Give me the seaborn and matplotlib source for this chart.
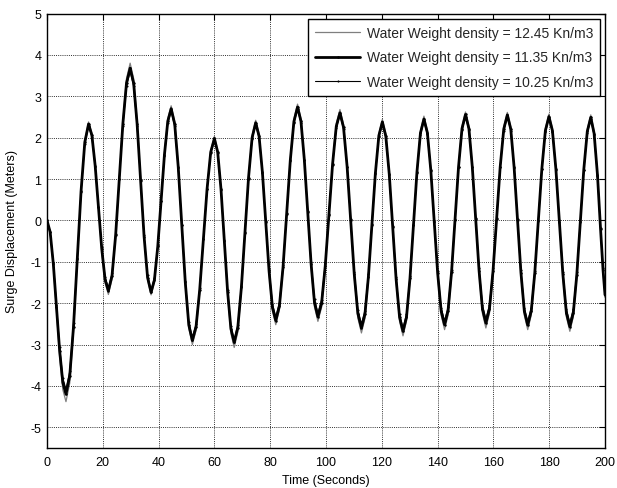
import numpy as np
import pandas as pd
import matplotlib
matplotlib.use('Agg')
import matplotlib.pyplot as plt
import seaborn as sns

# ---------------- data ----------------
time_s = [0, 1.13, 2.27, 3.4, 4.53, 5.67,
          6.8, 8.15, 9.5, 10.85, 12.2, 13.55,
          14.9, 16.08, 17.27, 18.45, 19.63, 20.82,
          22.0, 23.3, 24.6, 25.9, 27.2, 28.5,
          29.8, 31.05, 32.3, 33.55, 34.8, 36.05,
          37.3, 38.5, 39.7, 40.9, 42.1, 43.3,
          44.5, 45.77, 47.03, 48.3, 49.57, 50.83,
          52.1, 53.42, 54.73, 56.05, 57.37, 58.68,
          60.0, 61.18, 62.37, 63.55, 64.73, 65.92,
          67.1, 68.38, 69.67, 70.95, 72.23, 73.52,
          74.8, 76.0, 77.2, 78.4, 79.6, 80.8,
          82.0, 83.3, 84.6, 85.9, 87.2, 88.5,
          89.8, 91.02, 92.23, 93.45, 94.67, 95.88,
          97.1, 98.42, 99.73, 101.05, 102.37, 103.68,
          105.0, 106.28, 107.57, 108.85, 110.13, 111.42,
          112.7, 113.95, 115.2, 116.45, 117.7, 118.95,
          120.2, 121.43, 122.67, 123.9, 125.13, 126.37,
          127.6, 128.85, 130.1, 131.35, 132.6, 133.85,
          135.1, 136.33, 137.57, 138.8, 140.03, 141.27,
          142.5, 143.75, 145.0, 146.25, 147.5, 148.75,
          150.0, 151.22, 152.43, 153.65, 154.87, 156.08,
          157.3, 158.58, 159.87, 161.15, 162.43, 163.72,
          165.0, 166.22, 167.43, 168.65, 169.87, 171.08,
          172.3, 173.57, 174.83, 176.1, 177.37, 178.63,
          179.9, 181.15, 182.4, 183.65, 184.9, 186.15,
          187.4, 188.65, 189.9, 191.15, 192.4, 193.65,
          194.9, 196.1, 197.3, 198.4, 199.3, 200.0]

disp_1245 = [0, -0.29, -1.10, -2.19, -3.29, -4.09,
             -4.38, -3.93, -2.69, -1.00, 0.69, 1.93,
             2.38, 2.10, 1.34, 0.30, -0.75, -1.51,
             -1.79, -1.42, -0.39, 1.01, 2.40, 3.43,
             3.80, 3.43, 2.40, 1.00, -0.40, -1.43,
             -1.80, -1.49, -0.66, 0.49, 1.63, 2.46,
             2.77, 2.38, 1.33, -0.12, -1.56, -2.61,
             -3.00, -2.66, -1.74, -0.49, 0.77, 1.69,
             2.03, 1.69, 0.76, -0.52, -1.80, -2.73,
             -3.07, -2.70, -1.70, -0.33, 1.05, 2.05,
             2.42, 2.09, 1.19, -0.05, -1.29, -2.19,
             -2.52, -2.16, -1.19, 0.15, 1.48, 2.45,
             2.81, 2.46, 1.50, 0.19, -1.13, -2.09,
             -2.44, -2.10, -1.16, 0.12, 1.40, 2.34,
             2.68, 2.32, 1.33, -0.02, -1.37, -2.36,
             -2.72, -2.37, -1.43, -0.14, 1.15, 2.09,
             2.44, 2.09, 1.13, -0.18, -1.48, -2.44,
             -2.79, -2.43, -1.46, -0.14, 1.19, 2.16,
             2.52, 2.17, 1.23, -0.06, -1.35, -2.29,
             -2.64, -2.29, -1.33, -0.01, 1.31, 2.27,
             2.62, 2.27, 1.32, 0.01, -1.30, -2.25,
             -2.60, -2.25, -1.30, 0.01, 1.31, 2.26,
             2.61, 2.26, 1.30, -0.02, -1.33, -2.29,
             -2.64, -2.29, -1.34, -0.04, 1.27, 2.22,
             2.57, 2.22, 1.26, -0.06, -1.37, -2.33,
             -2.68, -2.33, -1.37, -0.07, 1.24, 2.20,
             2.55, 2.15, 1.12, -0.22, -1.25, -1.86]

disp_1135 = [0, -0.28, -1.05, -2.10, -3.15, -3.92,
             -4.20, -3.76, -2.57, -0.94, 0.70, 1.89,
             2.33, 2.06, 1.32, 0.32, -0.69, -1.43,
             -1.70, -1.34, -0.36, 0.99, 2.34, 3.32,
             3.68, 3.32, 2.33, 0.97, -0.39, -1.38,
             -1.74, -1.44, -0.63, 0.48, 1.59, 2.40,
             2.70, 2.33, 1.30, -0.10, -1.50, -2.53,
             -2.90, -2.57, -1.68, -0.46, 0.76, 1.65,
             1.98, 1.65, 0.75, -0.49, -1.72, -2.62,
             -2.95, -2.59, -1.62, -0.30, 1.03, 2.00,
             2.36, 2.04, 1.17, -0.03, -1.23, -2.10,
             -2.42, -2.07, -1.13, 0.16, 1.45, 2.39,
             2.74, 2.40, 1.47, 0.21, -1.06, -1.99,
             -2.33, -2.00, -1.10, 0.14, 1.37, 2.27,
             2.60, 2.25, 1.30, 0.00, -1.30, -2.25,
             -2.60, -2.27, -1.36, -0.11, 1.14, 2.05,
             2.38, 2.04, 1.12, -0.15, -1.42, -2.34,
             -2.68, -2.34, -1.40, -0.12, 1.17, 2.11,
             2.45, 2.12, 1.21, -0.04, -1.28, -2.19,
             -2.52, -2.18, -1.25, 0.02, 1.29, 2.22,
             2.56, 2.22, 1.30, 0.04, -1.22, -2.14,
             -2.48, -2.14, -1.22, 0.04, 1.29, 2.21,
             2.55, 2.21, 1.28, 0.01, -1.26, -2.19,
             -2.53, -2.19, -1.27, -0.01, 1.25, 2.17,
             2.51, 2.17, 1.24, -0.03, -1.30, -2.23,
             -2.57, -2.23, -1.31, -0.04, 1.23, 2.15,
             2.49, 2.10, 1.10, -0.20, -1.20, -1.80]

disp_1025 = [0, -0.27, -1.02, -2.04, -3.06, -3.81,
             -4.08, -3.65, -2.49, -0.90, 0.69, 1.85,
             2.28, 2.02, 1.30, 0.33, -0.65, -1.37,
             -1.63, -1.28, -0.32, 0.99, 2.29, 3.25,
             3.60, 3.25, 2.28, 0.96, -0.36, -1.33,
             -1.68, -1.39, -0.60, 0.48, 1.56, 2.35,
             2.64, 2.27, 1.27, -0.10, -1.46, -2.46,
             -2.83, -2.51, -1.64, -0.45, 0.75, 1.62,
             1.94, 1.62, 0.74, -0.47, -1.68, -2.56,
             -2.88, -2.53, -1.58, -0.29, 1.01, 1.96,
             2.31, 2.00, 1.15, -0.01, -1.17, -2.02,
             -2.33, -1.99, -1.08, 0.18, 1.44, 2.35,
             2.69, 2.36, 1.46, 0.23, -1.01, -1.91,
             -2.24, -1.92, -1.04, 0.16, 1.35, 2.23,
             2.55, 2.21, 1.29, 0.03, -1.24, -2.16,
             -2.50, -2.18, -1.29, -0.09, 1.12, 2.01,
             2.33, 2.00, 1.10, -0.14, -1.37, -2.27,
             -2.60, -2.27, -1.35, -0.10, 1.15, 2.07,
             2.40, 2.08, 1.19, -0.02, -1.22, -2.11,
             -2.43, -2.10, -1.20, 0.04, 1.28, 2.18,
             2.51, 2.18, 1.29, 0.07, -1.16, -2.05,
             -2.38, -2.05, -1.16, 0.06, 1.28, 2.17,
             2.50, 2.17, 1.27, 0.03, -1.21, -2.11,
             -2.44, -2.11, -1.22, 0.01, 1.24, 2.13,
             2.46, 2.13, 1.23, 0.00, -1.24, -2.14,
             -2.47, -2.14, -1.24, -0.02, 1.21, 2.11,
             2.44, 2.06, 1.08, -0.19, -1.16, -1.75]

series_labels = ['Water Weight density = 12.45 Kn/m3',
                 'Water Weight density = 11.35 Kn/m3',
                 'Water Weight density = 10.25 Kn/m3']
x_ticks = [0, 20, 40, 60, 80, 100, 120, 140, 160, 180, 200]
y_ticks = [-5, -4, -3, -2, -1, 0, 1, 2, 3, 4, 5]
x_label = 'Time (Seconds)'
y_label = 'Surge Displacement (Meters)'

# ---------------- plotting ----------------
sns.set_theme(style='white')
plt.rcParams['font.family'] = ['Liberation Sans', 'DejaVu Sans']

fig = plt.figure(figsize=(6.17, 4.89), dpi=100)
ax = fig.add_axes([47 / 617, 1 - 449 / 489, 558 / 617, 434.5 / 489])

df1 = pd.DataFrame({'t': time_s, 'v': disp_1245})
df2 = pd.DataFrame({'t': time_s, 'v': disp_1135})
df3 = pd.DataFrame({'t': time_s, 'v': disp_1025})

sns.lineplot(data=df1, x='t', y='v', ax=ax, color='#7f7f7f', linewidth=0.9,
             estimator=None, sort=False, label=series_labels[0])
sns.lineplot(data=df2, x='t', y='v', ax=ax, color='black', linewidth=2.0,
             marker='.', markersize=3.5, markeredgewidth=0,
             estimator=None, sort=False, label=series_labels[1])
sns.lineplot(data=df3, x='t', y='v', ax=ax, color='black', linewidth=0.8,
             marker='.', markersize=3, markeredgewidth=0,
             estimator=None, sort=False, label=series_labels[2])
for ln in ax.get_lines():
    ln.set_solid_joinstyle('round')

ax.set_xlim(0, 200)
ax.set_ylim(-5.5, 5)
ax.set_xticks(x_ticks)
ax.set_yticks(y_ticks)
ax.set_xticklabels([str(v) for v in x_ticks])
ax.set_yticklabels([str(v) for v in y_ticks])

ax.grid(True, color='#303030', linestyle=(0, (1, 1.2)), linewidth=0.7)
ax.set_axisbelow(True)
for s in ax.spines.values():
    s.set_color('black')
    s.set_linewidth(1.0)
    s.set_visible(True)

ax.tick_params(direction='in', top=True, right=True, length=4, width=0.8,
               labelsize=9, colors='black')
ax.tick_params(axis='x', pad=6)
ax.tick_params(axis='y', pad=4)
ax.set_xlabel(x_label, fontsize=9, color='black', labelpad=4)
ax.set_ylabel(y_label, fontsize=9, color='black', labelpad=9)

leg = ax.legend(loc='upper right', bbox_to_anchor=((600 - 47) / 558, (449 - 20) / 434.5),
                borderaxespad=0, fontsize=10, frameon=True, fancybox=False,
                edgecolor='black', framealpha=1, handlelength=3.2,
                labelspacing=0.75, handletextpad=0.5, borderpad=0.5)
leg.get_frame().set_linewidth(1.0)

fig.savefig('out.png', dpi=100)
